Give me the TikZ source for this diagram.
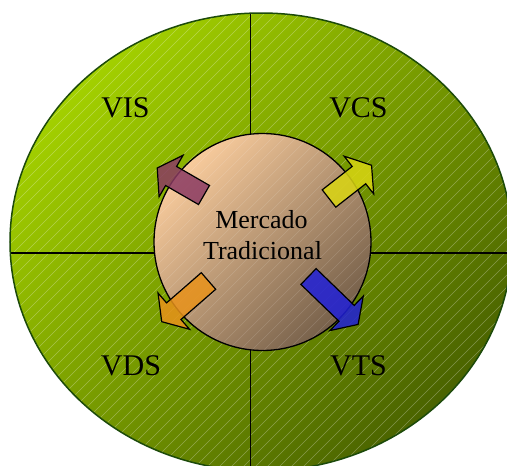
\documentclass[tikz,border=0pt]{standalone}
\usepackage{fontspec}
\setmainfont{Liberation Serif}

\definecolor{fieldlight}{HTML}{A3D000}
\definecolor{fieldmid}{HTML}{7CA100}
\definecolor{fielddark}{HTML}{4A6300}
\definecolor{rimgreen}{HTML}{1C4A0A}
\definecolor{corelight}{HTML}{F8CB9C}
\definecolor{coremid}{HTML}{C9A078}
\definecolor{coredark}{HTML}{76604A}
\definecolor{arrowpurple}{HTML}{8A3A62}
\definecolor{arrowyellow}{HTML}{DAD612}
\definecolor{arroworange}{HTML}{E8921A}
\definecolor{arrowblue}{HTML}{2020D8}

% block arrow: tail centre (#1,#2), direction #3, length #4, colour #5
\newcommand\blockarrow[5]{%
  \begin{scope}[shift={(#1,#2)}, rotate=#3]
    \path[arrowbody, fill=#5]
      (0,-11) -- (#4-16,-11) -- (#4-16,-24) -- (#4,0)
      -- (#4-16,24) -- (#4-16,11) -- (0,11) -- cycle;
  \end{scope}}

\begin{document}
\begin{tikzpicture}[x=1pt,y=-1pt,
  hatch/.style={white, line width=0.6pt, opacity=0.3},
  divider/.style={black, line width=1.3pt},
  arrowbody/.style={draw=black, line width=1.2pt, line join=miter, fill opacity=0.85},
  lbl/.style={font=\fontsize{30}{36}\selectfont, anchor=base, inner sep=0pt},
  core/.style={font=\fontsize{26}{31}\selectfont, anchor=base, inner sep=0pt}]
\useasboundingbox (0,0) rectangle (507,466);

% outer field
\shade[top color=fieldlight, middle color=fieldmid, bottom color=fielddark, shading angle=45]
  (261,242) ellipse [x radius=251pt, y radius=229pt];
\begin{scope}
  \clip (261,242) ellipse [x radius=251pt, y radius=229pt];
  \foreach \i in {-500,-488,...,520} \draw[hatch] (\i,490) -- ++(500,-500);
  \draw[divider] (250.5,0) -- (250.5,480);
  \draw[divider] (0,253) -- (520,253);
\end{scope}
\draw[rimgreen, line width=1.5pt] (261,242) ellipse [x radius=251pt, y radius=229pt];

% central market
\shade[top color=corelight, middle color=coremid, bottom color=coredark, shading angle=45]
  (262.5,242) circle [radius=108.5pt];
\begin{scope}
  \clip (262.5,242) circle [radius=108.5pt];
  \foreach \i in {-500,-488,...,520} \draw[hatch, opacity=0.15] (\i,490) -- ++(500,-500);
\end{scope}
\draw[black, line width=1.3pt] (262.5,242) circle [radius=108.5pt];

% arrows leaving the market
\blockarrow{204}{195}{150}{54}{arrowpurple}
\blockarrow{329}{198.5}{38}{54}{arrowyellow}
\blockarrow{208.5}{281}{221}{62}{arroworange}
\blockarrow{308.5}{276.5}{-44}{69}{arrowblue}

% labels
\node[core] (mercado) at (261.5,228) {Mercado};
\node[core] (tradicional) at (262.5,259) {Tradicional};
\node[lbl] (vis) at (125.5,117) {VIS};
\node[lbl] (vcs) at (358.5,117) {VCS};
\node[lbl] (vds) at (131,375) {VDS};
\node[lbl] (vts) at (358.5,375) {VTS};
\end{tikzpicture}
\end{document}
